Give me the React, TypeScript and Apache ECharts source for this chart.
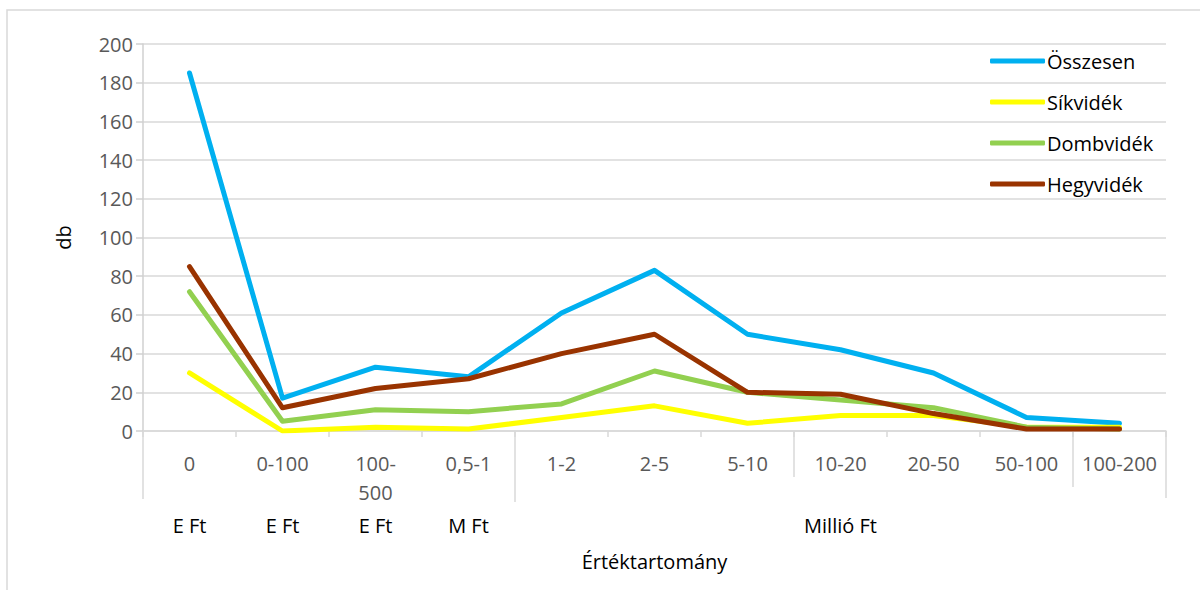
import React, { useEffect, useRef } from 'react';
import * as echarts from 'echarts';

const categories = ['0', '0-100', '100-500', '0,5-1', '1-2', '2-5', '5-10', '10-20', '20-50', '50-100', '100-200'];
const unitLabels = ['E Ft', 'E Ft', 'E Ft', 'M Ft', '', '', '', 'Millió Ft', '', '', ''];
const seriesNames = ['Összesen', 'Síkvidék', 'Dombvidék', 'Hegyvidék'];
const osszesen = [185, 17, 33, 28, 61, 83, 50, 42, 30, 7, 4];
const sikvidek = [30, 0, 2, 1, 7, 13, 4, 8, 8, 2, 2];
const dombvidek = [72, 5, 11, 10, 14, 31, 20, 16, 12, 2, 1];
const hegyvidek = [85, 12, 22, 27, 40, 50, 20, 19, 9, 1, 1];
const yMin = 0;
const yMax = 200;
const yStep = 20;
const yTitle = 'db';
const xTitle = 'Értéktartomány';
const groupBoundaries = [0, 4, 7, 10, 11];

const FONT = 'Open Sans';
const colors = ['#00B0F0', '#FFFF00', '#92D050', '#993300'];
const sepLengths = [68, 71, 46, 56, 67];

export default function App() {
  const ref = useRef<HTMLDivElement>(null);
  useEffect(() => {
    document.body.style.margin = '0';
    const chart = echarts.init(ref.current!, undefined, { renderer: 'svg' });
    const values = [osszesen, sikvidek, dombvidek, hegyvidek];
    chart.setOption({
      animation: false,
      backgroundColor: '#fff',
      grid: { left: 143, right: 34, top: 44, bottom: 159 },
      legend: {
        orient: 'vertical',
        left: 985,
        top: 46,
        padding: 5,
        icon: 'roundRect',
        itemWidth: 55,
        itemHeight: 5,
        itemGap: 21,
        textStyle: { fontSize: 20, color: '#000', fontFamily: FONT, lineHeight: 20, padding: [0, 0, 0, -3] },
        data: seriesNames,
      },
      xAxis: [
        {
          type: 'category',
          data: categories,
          boundaryGap: true,
          position: 'bottom',
          axisLine: { show: true, lineStyle: { color: '#d9d9d9', width: 1.5 } },
          axisTick: { show: true, length: 6, lineStyle: { color: '#d9d9d9', width: 1.5 } },
          axisLabel: {
            interval: 0,
            fontSize: 20,
            fontFamily: FONT,
            color: '#595959',
            lineHeight: 29,
            margin: 18,
            formatter: (v: string) => (v === '100-500' ? '100-\n500' : v),
          },
          name: xTitle,
          nameLocation: 'middle',
          nameGap: 120,
          nameTextStyle: { fontSize: 20, fontFamily: FONT, color: '#000' },
        },
        {
          type: 'category',
          data: unitLabels,
          boundaryGap: true,
          position: 'bottom',
          axisLine: { show: false },
          axisTick: { show: false },
          axisLabel: {
            interval: 0,
            fontSize: 20,
            fontFamily: FONT,
            color: '#000',
            lineHeight: 29,
            margin: 80,
          },
        },
      ],
      yAxis: {
        type: 'value',
        min: yMin,
        max: yMax,
        interval: yStep,
        axisLine: { show: true, lineStyle: { color: '#d0d0d0', width: 1.5 } },
        axisTick: { show: true, length: 7, lineStyle: { color: '#d0d0d0', width: 1.5 } },
        splitLine: { show: true, lineStyle: { color: '#d9d9d9', width: 1.5 } },
        axisLabel: { fontSize: 20, fontFamily: FONT, color: '#595959', margin: 10 },
        name: yTitle,
        nameLocation: 'middle',
        nameGap: 70,
        nameTextStyle: { fontSize: 20, fontFamily: FONT, color: '#000' },
      },
      series: seriesNames.map((n, i) => ({
        name: n,
        type: 'line',
        data: values[i],
        showSymbol: false,
        symbol: 'none',
        color: colors[i],
        itemStyle: { color: colors[i] },
        lineStyle: { color: colors[i], width: 5, cap: 'round', join: 'round' },
      })),
    });
    const x0 = chart.convertToPixel({ xAxisIndex: 0 }, 0) as number;
    const x1 = chart.convertToPixel({ xAxisIndex: 0 }, 1) as number;
    const band = x1 - x0;
    const yBase = chart.convertToPixel({ yAxisIndex: 0 }, 0) as number;
    const graphics: any[] = [
      {
        type: 'rect',
        shape: { x: 7, y: 10, width: 1250, height: 650 },
        style: { fill: 'none', stroke: '#d9d9d9', lineWidth: 1.5 },
        silent: true,
      },
    ];
    groupBoundaries.forEach((b, i) => {
      const x = x0 - band / 2 + b * band;
      graphics.push({
        type: 'line',
        shape: { x1: x, y1: yBase, x2: x, y2: yBase + sepLengths[i] },
        style: { stroke: '#d9d9d9', lineWidth: 1.5 },
        silent: true,
      });
    });
    chart.setOption({ graphic: graphics });
    return () => chart.dispose();
  }, []);
  return <div ref={ref} style={{ width: 1200, height: 590 }} />;
}
